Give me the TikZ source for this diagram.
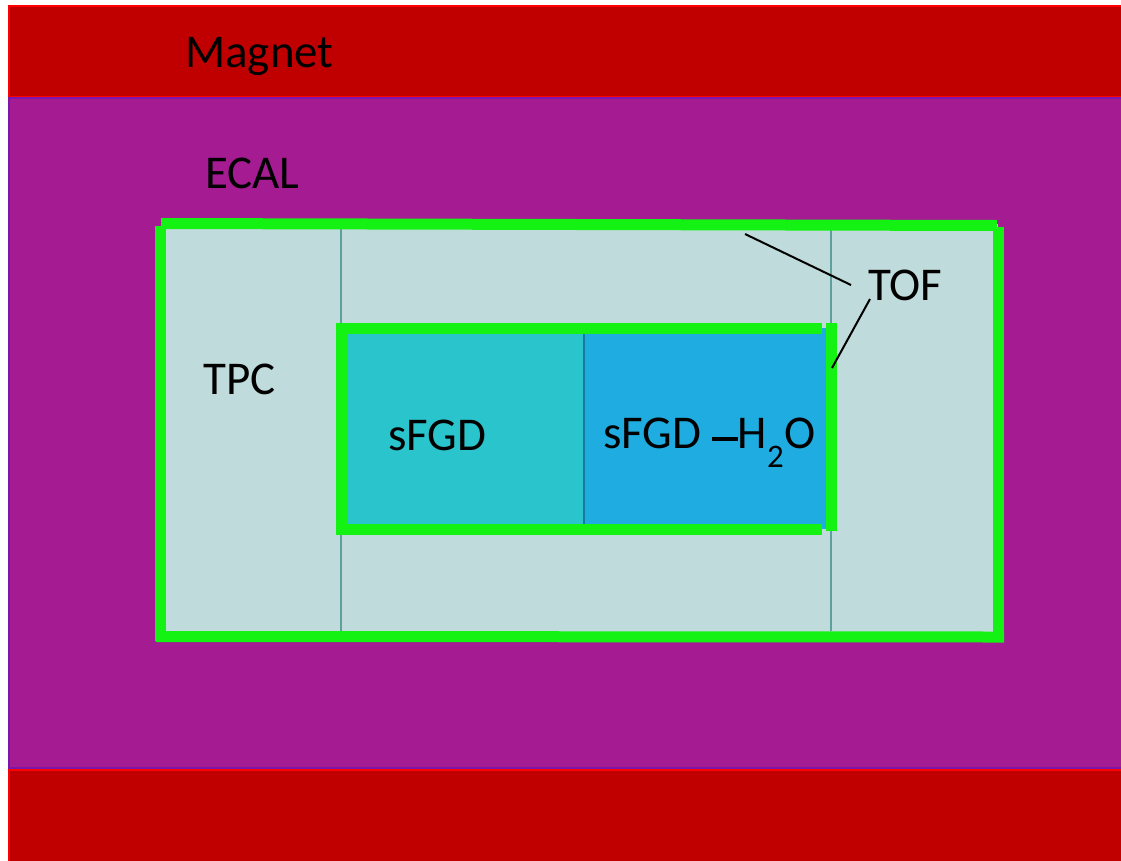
\documentclass[tikz,border=0pt]{standalone}
\usepackage{fontspec}
\setmainfont{Carlito}
\definecolor{magred}{RGB}{192,0,0}
\definecolor{magedge}{RGB}{255,0,0}
\definecolor{ecal}{RGB}{165,27,146}
\definecolor{ecaledge}{RGB}{124,22,170}
\definecolor{tpcfill}{RGB}{192,219,219}
\definecolor{tofgreen}{RGB}{20,242,20}
\definecolor{thinline}{RGB}{94,160,156}
\definecolor{sfgd}{RGB}{41,196,204}
\definecolor{sfgdw}{RGB}{31,173,225}
\definecolor{divider}{RGB}{22,121,160}
\tikzset{
  lbl/.style={anchor=base west, inner sep=0pt, font=\fontsize{47}{56}\selectfont, text=black},
  tof/.style={draw=tofgreen, line width=11pt},
  thin/.style={draw=thinline, line width=2.5pt},
  lead/.style={draw=black, line width=2pt},
}
\begin{document}
\begin{tikzpicture}[x=1pt,y=-1pt]
\useasboundingbox (0,0) rectangle (1121,860);
\fill[white] (0,0) rectangle (1121,860);
\begin{scope}
\clip (0,0) rectangle (1121,860);
% magnet top
\filldraw[fill=magred, draw=magedge, line width=2pt] (9,6) rectangle (1130,97);
% ECAL
\filldraw[fill=ecal, draw=ecaledge, line width=2pt] (9,98) rectangle (1130,768);
% magnet bottom
\filldraw[fill=magred, draw=magedge, line width=2pt] (9,770) rectangle (1130,870);
\end{scope}
% TPC
\fill[tpcfill] (161,224) rectangle (998,637);
\draw[thin] (341,229) -- (341,631);
\draw[thin] (831,229) -- (831,631);
% inner sFGD
\fill[sfgd] (341,328) rectangle (584,529);
\fill[sfgdw] (584,328) rectangle (831,529);
\draw[divider, line width=2.5pt] (584,328) -- (584,524);
% TOF green outer
\draw[tof] (160,226) -- (160,641);
\draw[tof] (161,223.5) -- (997,225.5);
\draw[tof] (998,227) -- (998,642);
\draw[tof] (156,636.5) -- (1004,637);
% TOF green inner
\draw[tof] (341,323) -- (341,535);
\draw[tof] (336,328.5) -- (822,328.5);
\draw[tof] (341,529.5) -- (822,529.5);
\draw[tof] (831,323) -- (831,531);
% labels
\node[lbl] (magnet) at (185,67) {Magnet};
\node[lbl] (ecal) at (205,188) {ECAL};
\node[lbl] (tpc) at (203,394) {TPC};
\node[lbl] (sfgd) at (388,450) {sFGD};
\node[lbl] (sfgdh) at (603,448) {sFGD \rule[0.33ex]{0.55em}{0.07em}H\raisebox{-0.3ex}{\textsubscript{2}}O};
\node[lbl] (toflabel) at (868,300) {TOF};
% leader lines
\coordinate (t1) at (851,285);
\coordinate (e1) at (745,234);
\coordinate (t2) at (870,299);
\coordinate (e2) at (832,368);
\draw[lead] (t1) -- (e1);
\draw[lead] (t2) -- (e2);
\end{tikzpicture}
\end{document}
